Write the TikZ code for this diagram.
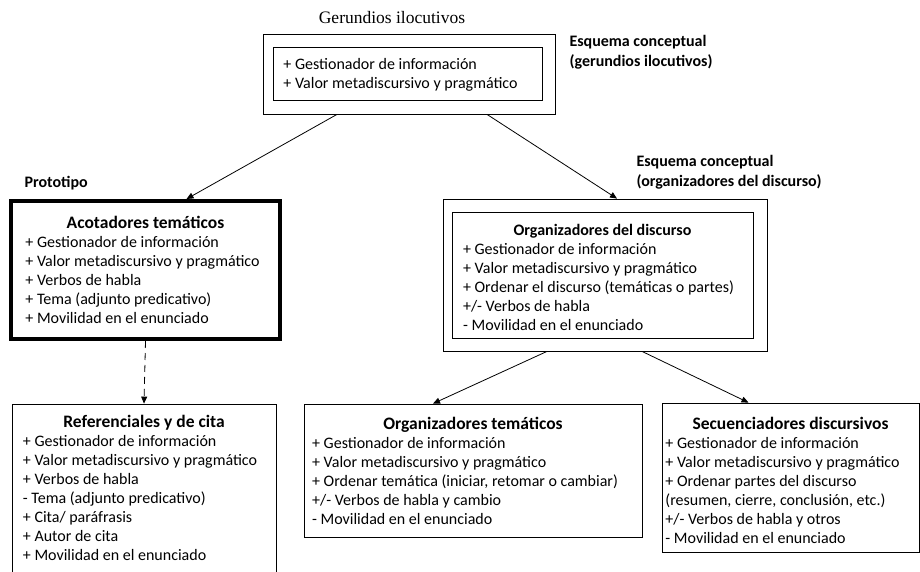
\documentclass[tikz,border=0pt]{standalone}
\usepackage{fontspec}
\setmainfont{Carlito}
\newfontfamily\timesfont{Liberation Serif}
\usetikzlibrary{arrows.meta, positioning}

% heading row of a box: font size, top strut, text
\newcommand{\hd}[3]{\multicolumn{1}{@{}c@{}}{\rule{0pt}{#2}\fontsize{#1}{19}\selectfont\bfseries #3}}
% list of lines, optional space on the right
\newcommand{\items}[2][0pt]{\begin{tabular}{@{}l@{\hspace{#1}}}#2\end{tabular}}

\begin{document}
\begin{tikzpicture}[x=1pt, y=-1pt, >={Triangle[length=7pt,width=6pt]},
    every node/.append style={font=\fontsize{16}{19}\selectfont},
    box/.style={draw, line width=0.8pt, inner sep=0pt},
    heading/.style={font=\fontsize{16}{20}\selectfont\bfseries, align=left, anchor=west}]
    \useasboundingbox (0,0) rectangle (920,572);

    % Top: gerundios ilocutivos
    \node[font=\timesfont\fontsize{17.5}{20}\selectfont] (title) at (392,18) {Gerundios ilocutivos};
    \node[box, minimum width=292, minimum height=80] (G) at (409,74) {};
    \node[box, minimum width=269, minimum height=53] (Gin) at (407.5,73.5)
        {\items[14pt]{\rule{0pt}{17pt}+ Gestionador de información \\ + Valor metadiscursivo y pragmático}};
    \node[heading] (EG) at (566,52) {Esquema conceptual \\ (gerundios ilocutivos)};

    % Left: prototipo
    \node[heading] (P) at (21,183) {Prototipo};
    \node[box, line width=4pt, minimum width=269, minimum height=138] (A) at (145.5,270)
        {\items[6pt]{\hd{17.5}{17pt}{Acotadores temáticos} \\ + Gestionador de información \\
         + Valor metadiscursivo y pragmático \\ + Verbos de habla \\
         + Tema (adjunto predicativo) \\ + Movilidad en el enunciado}};

    % Right: organizadores del discurso
    \node[heading] (EO) at (633,172) {Esquema conceptual \\ (organizadores del discurso)};
    \node[box, minimum width=324, minimum height=152] (O) at (605,275) {};
    \node[box, minimum width=301, minimum height=126] (Oin) at (602.5,275)
        {\items[8pt]{\hd{16}{21pt}{Organizadores del discurso} \\ + Gestionador de información \\
         + Valor metadiscursivo y pragmático \\ + Ordenar el discurso (temáticas o partes) \\
         +/- Verbos de habla \\ - Movilidad en el enunciado}};

    % Bottom row
    \node[box, minimum width=264, minimum height=172] (R) at (144,490)
        {\items[8pt]{\hd{17.5}{13pt}{Referenciales y de cita} \\ + Gestionador de información \\
         + Valor metadiscursivo y pragmático \\ + Verbos de habla \\
         - Tema (adjunto predicativo) \\ + Cita/ paráfrasis \\
         + Autor de cita \\ + Movilidad en el enunciado}};
    \node[box, minimum width=338, minimum height=133] (OT) at (473,470.5)
        {\items[16pt]{\hd{17.5}{19pt}{Organizadores temáticos} \\ + Gestionador de información \\
         + Valor metadiscursivo y pragmático \\ + Ordenar temática (iniciar, retomar o cambiar) \\
         +/- Verbos de habla y cambio \\ - Movilidad en el enunciado}};
    \node[box, minimum width=257, minimum height=149] (SD) at (790.5,477.5)
        {\items[16pt]{\hd{17.5}{23pt}{Secuenciadores discursivos} \\ + Gestionador de información \\
         + Valor metadiscursivo y pragmático \\ + Ordenar partes del discurso \\
         (resumen, cierre, conclusión, etc.) \\ +/- Verbos de habla y otros \\
         - Movilidad en el enunciado}};

    % Connections: top to second row
    \draw[->, line width=0.8pt] ([xshift=-72]G.south) -- ([xshift=41]A.north);
    \draw[->, line width=0.8pt] ([xshift=78]G.south) -- ([xshift=12]O.north);

    % Connections: second row to bottom row
    \draw[->, line width=0.8pt, dash pattern=on 7pt off 5pt] (A.south) -- (R.north);
    \draw[->, line width=0.8pt] ([xshift=-58]O.south) -- ([xshift=-40]OT.north);
    \draw[->, line width=0.8pt] ([xshift=37]O.south) -- ([xshift=-42]SD.north);
\end{tikzpicture}
\end{document}
